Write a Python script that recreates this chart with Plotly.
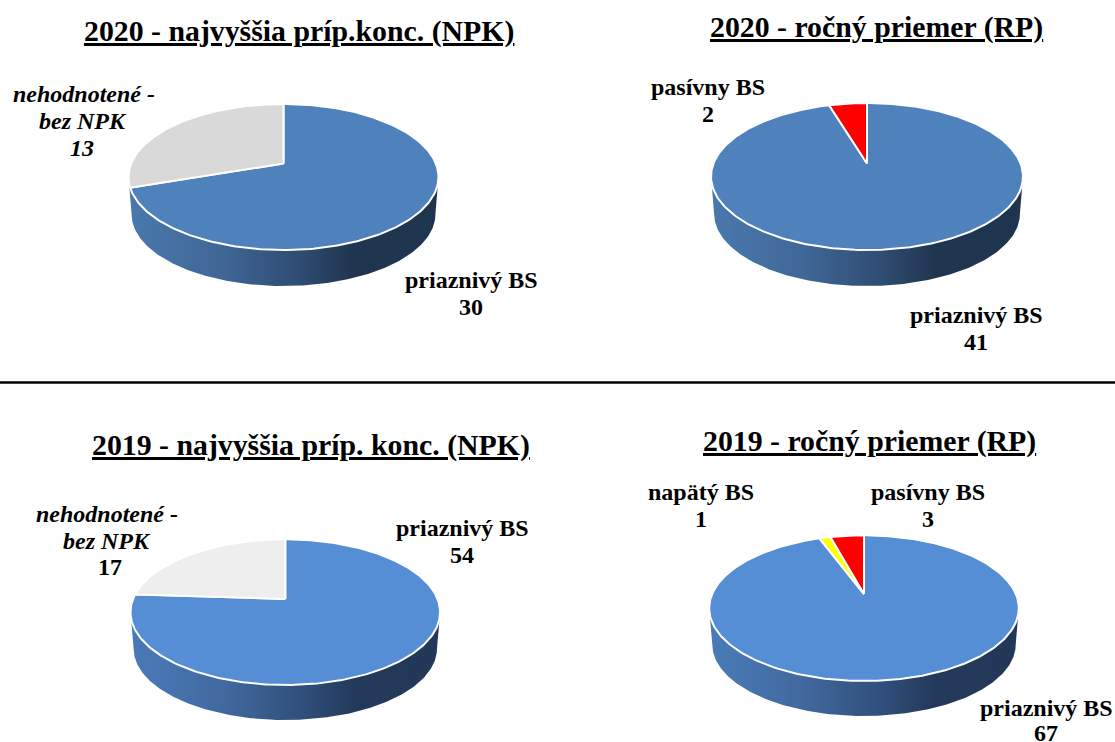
import numpy as np
import plotly.graph_objects as go

# ---- data ----
titles = ["2020 - najvyššia príp.konc. (NPK)", "2020 - ročný priemer (RP)",
          "2019 - najvyššia príp. konc. (NPK)", "2019 - ročný priemer (RP)"]
cats_2020_npk = ["priaznivý BS", "nehodnotené - bez NPK"]
vals_2020_npk = [30, 13]
cats_2020_rp = ["priaznivý BS", "pasívny BS"]
vals_2020_rp = [41, 2]
cats_2019_npk = ["priaznivý BS", "nehodnotené - bez NPK"]
vals_2019_npk = [54, 17]
cats_2019_rp = ["priaznivý BS", "napätý BS", "pasívny BS"]
vals_2019_rp = [67, 1, 3]

# ---- geometry / style (pixel-space axes) ----
W, H = 1115, 742
FONT = "Liberation Serif"
BLUE_A, BLUE_B = "#4f81bd", "#558ed5"
GRAD_A = [[0, "#4a78ae"], [0.3, "#3f6796"], [0.55, "#2f4c72"], [0.72, "#20354f"], [1, "#1f344e"]]
GRAD_B = [[0, "#4a7bb8"], [0.3, "#41699f"], [0.55, "#30507c"], [0.72, "#243a5c"], [1, "#233858"]]

pies = [
    dict(cats=cats_2020_npk, vals=vals_2020_npk, cx=283.5, ax=163.5, top=104, bot=250, rx=155, base=286,
         colors=[BLUE_A, "#d9d9d9"], grad=GRAD_A),
    dict(cats=cats_2020_rp, vals=vals_2020_rp, cx=867, ax=163.5, top=103, bot=250, rx=156, base=286,
         colors=[BLUE_A, "#ff0000"], grad=GRAD_A),
    dict(cats=cats_2019_npk, vals=vals_2019_npk, cx=285.3, ax=599, top=539.3, bot=685, rx=154.8, base=720,
         colors=[BLUE_B, "#eeeeee"], grad=GRAD_B),
    dict(cats=cats_2019_rp, vals=vals_2019_rp, cx=864, ax=594, top=535.3, bot=681, rx=154.8, base=716,
         colors=[BLUE_B, "#ffff00", "#ff0000"], grad=GRAD_B),
]


def projector(p, s=1.0, dy=0.0):
    up, dn = p["ax"] - p["top"], p["bot"] - p["ax"]
    k = (dn - up) / (dn + up)
    a = up * (1 + k)
    b = p["rx"] * np.sqrt(1 - k * k)

    def f(theta):
        u, v = np.sin(theta), np.cos(theta)
        w = 1 + k * v
        return p["cx"] + s * b * u / w, p["ax"] - s * a * v / w + dy
    return f, k


fig = go.Figure()
for p in pies:
    s = 0.98
    top_rim, k = projector(p)
    dy = p["base"] - p["ax"] - s * (p["bot"] - p["ax"])
    low_rim, _ = projector(p, s, dy)
    t0 = np.arccos(-k)
    th = np.linspace(t0, 2 * np.pi - t0, 200)
    x1, y1 = top_rim(th)
    x2, y2 = low_rim(th[::-1])
    fig.add_trace(go.Scatter(
        x=np.r_[x1, x2], y=np.r_[y1, y2], mode="lines", fill="toself",
        line=dict(width=0, color="rgba(0,0,0,0)"), hoverinfo="skip",
        fillgradient=dict(type="horizontal", colorscale=p["grad"]),
    ))
    total = sum(p["vals"])
    start = 0.0
    for cat, val, col in zip(p["cats"], p["vals"], p["colors"]):
        end = start + 2 * np.pi * val / total
        th = np.linspace(start, end, max(int(val / total * 360), 12))
        x, y = top_rim(th)
        fig.add_trace(go.Scatter(
            x=np.r_[p["cx"], x, p["cx"]], y=np.r_[p["ax"], y, p["ax"]],
            mode="lines", fill="toself", fillcolor=col, name=cat,
            line=dict(color="#ffffff", width=2),
        ))
        start = end

TITLE_SIZE = 29.8
LABEL_SIZE = 24
title_pos = [(299, 31), (876, 27), (311, 445), (869, 441)]
for t, (x, y) in zip(titles, title_pos):
    fig.add_annotation(x=x, y=y, text=f"<b><u>{t}</u></b>", showarrow=False,
                       font=dict(family=FONT, size=TITLE_SIZE, color="black"),
                       xanchor="center", yanchor="middle")

labels = [
    ("<b><i>nehodnotené -</i></b>", 84, 94),
    ("<b><i>bez NPK</i></b>", 83, 121),
    ("<b><i>13</i></b>", 82, 148),
    (f"<b>{cats_2020_npk[0]}</b>", 471, 280),
    (f"<b>{vals_2020_npk[0]}</b>", 471, 307),
    (f"<b>{cats_2020_rp[1]}</b>", 708, 87),
    (f"<b>{vals_2020_rp[1]}</b>", 708, 114),
    (f"<b>{cats_2020_rp[0]}</b>", 976, 315),
    (f"<b>{vals_2020_rp[0]}</b>", 976, 342),
    ("<b><i>nehodnotené -</i></b>", 107, 514),
    ("<b><i>bez NPK</i></b>", 107, 541),
    ("<b>17</b>", 110, 567),
    (f"<b>{cats_2019_npk[0]}</b>", 462, 528),
    (f"<b>{vals_2019_npk[0]}</b>", 462, 555),
    (f"<b>{cats_2019_rp[1]}</b>", 701, 492),
    (f"<b>{vals_2019_rp[1]}</b>", 701, 519),
    (f"<b>{cats_2019_rp[2]}</b>", 928, 492),
    (f"<b>{vals_2019_rp[2]}</b>", 928, 519),
    (f"<b>{cats_2019_rp[0]}</b>", 1046, 708),
    (f"<b>{vals_2019_rp[0]}</b>", 1046, 733),
]
for text, x, y in labels:
    fig.add_annotation(x=x, y=y, text=text, showarrow=False,
                       font=dict(family=FONT, size=LABEL_SIZE, color="black"),
                       xanchor="center", yanchor="middle", align="center",
                       borderpad=0, borderwidth=0)

fig.add_shape(type="line", xref="x", yref="y", x0=0, x1=W, y0=382.5, y1=382.5,
              line=dict(color="black", width=2.5))

fig.update_layout(
    width=W, height=H, margin=dict(l=0, r=0, t=0, b=0), showlegend=False,
    paper_bgcolor="white", plot_bgcolor="white",
    xaxis=dict(range=[0, W], visible=False, fixedrange=True),
    yaxis=dict(range=[H, 0], visible=False, fixedrange=True),
)
fig.write_html("out.html", config={"displayModeBar": False},
               post_script="document.body.style.margin='0';document.documentElement.style.overflow='hidden';")
